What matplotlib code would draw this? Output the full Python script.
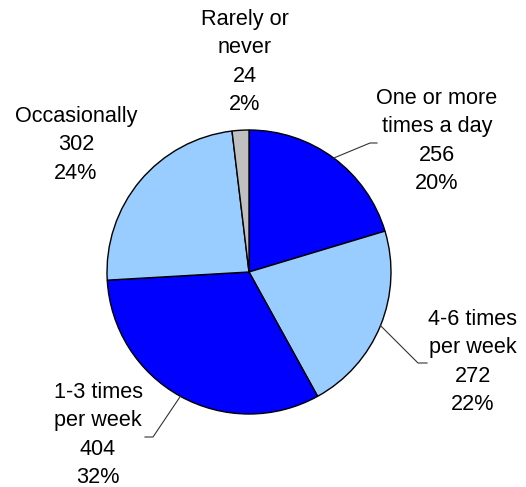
import numpy as np
import matplotlib
matplotlib.use("Agg")
import matplotlib.pyplot as plt

# survey answers, clockwise from 12 o'clock
labels = ["One or more\ntimes a day", "4-6 times\nper week", "1-3 times\nper week",
          "Occasionally", "Rarely or\nnever"]
counts = [256, 272, 404, 302, 24]
colors = ["#0000FF", "#99CCFF", "#0000FF", "#99CCFF", "#C0C0C0"]

# label centres and leader elbows, in pixels from top-left
label_pos = [(437, 141), (473, 362), (98, 435), (76, 145), (245, 62)]
elbows = [[(370, 143), (377, 143)], [(418, 363), (427, 363)], [(153, 437), (145, 437)], None, None]

W, H = 526, 487
cx, cy, r = 249, 272, 142

plt.rcParams["font.family"] = ["Liberation Sans", "DejaVu Sans"]
fig = plt.figure(figsize=(W / 100, H / 100), dpi=100)
ax = fig.add_axes([0, 0, 1, 1])
ax.set_xlim(0, W)
ax.set_ylim(0, H)
ax.set_aspect("equal")
ax.axis("off")

wedges, _ = ax.pie(counts, colors=colors, startangle=90, counterclock=False,
                   center=(cx, H - cy), radius=r,
                   wedgeprops=dict(edgecolor="black", linewidth=1.0))
ax.set_xlim(0, W)
ax.set_ylim(0, H)

total = sum(counts)
for w, lab, n, pos, elb in zip(wedges, labels, counts, label_pos, elbows):
    pct = round(100 * n / total)
    ax.text(pos[0], H - pos[1], f"{lab}\n{n}\n{pct}%", ha="center", va="center",
            fontsize=15.6, linespacing=1.47, color="black")
    if elb:
        mid = np.deg2rad((w.theta1 + w.theta2) / 2)
        xs = [cx + r * np.cos(mid)] + [p[0] for p in elb]
        ys = [H - cy + r * np.sin(mid)] + [H - p[1] for p in elb]
        ax.plot(xs, ys, color="#333333", lw=0.8)

fig.savefig("out.png", dpi=100)
